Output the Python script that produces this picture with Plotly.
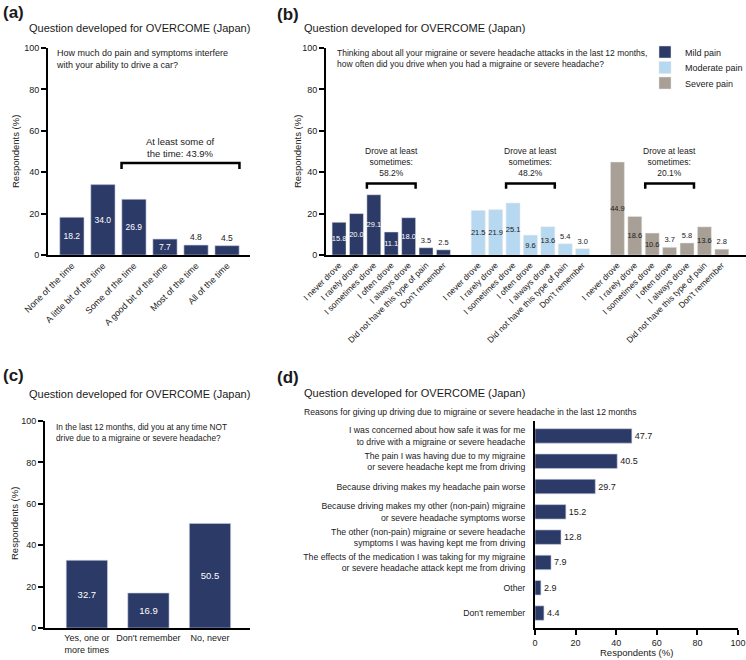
import plotly.graph_objects as go

W, H = 746, 660
FONT = "Liberation Sans, Arial, sans-serif"
NAVY = "#2B3A66"
LIGHT = "#B6D8F0"
TAUPE = "#A89F96"
TXT = "#1a1a1a"

# ---------------- data ----------------
a_categories = ["None of the time", "A little bit of the time", "Some of the time",
                "A good bit of the time", "Most of the time", "All of the time"]
a_values = [18.2, 34.0, 26.9, 7.7, 4.8, 4.5]
a_bracket_text = "At least some of<br>the time: 43.9%"

b_categories = ["I never drove", "I rarely drove", "I sometimes drove", "I often drove",
                "I always drove", "Did not have this type of pain", "Don't remember"]
b_series = ["Mild pain", "Moderate pain", "Severe pain"]
b_mild = [15.8, 20.0, 29.1, 11.1, 18.0, 3.5, 2.5]
b_moderate = [21.5, 21.9, 25.1, 9.6, 13.6, 5.4, 3.0]
b_severe = [44.9, 18.6, 10.6, 3.7, 5.8, 13.6, 2.8]
b_bracket_pct = ["58.2%", "48.2%", "20.1%"]

c_categories = ["Yes, one or<br>more times", "Don't remember", "No, never"]
c_values = [32.7, 16.9, 50.5]

d_categories = [
    "I was concerned about how safe it was for me<br>to drive with a migraine or severe headache",
    "The pain I was having due to my migraine<br>or severe headache kept me from driving",
    "Because driving makes my headache pain worse",
    "Because driving makes my other (non-pain) migraine<br>or severe headache symptoms worse",
    "The other (non-pain) migraine or severe headache<br>symptoms I was having kept me from driving",
    "The effects of the medication I was taking for my migraine<br>or severe headache attack kept me from driving",
    "Other",
    "Don't remember",
]
d_values = [47.7, 40.5, 29.7, 15.2, 12.8, 7.9, 2.9, 4.4]

# ---------------- helpers ----------------
def PX(x):
    return x / W

def PY(y):
    return 1 - y / H

def positions(vals, thr=7):
    return ["inside" if v >= thr else "outside" for v in vals]

fig = go.Figure()

# ---------- panel (a) ----------
a_x = list(range(len(a_categories)))
fig.add_trace(go.Bar(
    x=a_x, y=a_values, width=0.78, marker=dict(color=NAVY, line=dict(color="#c8cde0", width=0.6)),
    text=[f"{v:.1f}" for v in a_values], textposition=positions(a_values),
    insidetextanchor="middle", constraintext="none", textangle=0,
    insidetextfont=dict(color="white", size=8.5, family=FONT),
    outsidetextfont=dict(color=TXT, size=8.5, family=FONT),
    cliponaxis=False, showlegend=False, xaxis="x", yaxis="y", hoverinfo="skip"))

# ---------- panel (b) ----------
b_colors = [NAVY, LIGHT, TAUPE]
b_textcolors = ["white", TXT, TXT]
b_data = [b_mild, b_moderate, b_severe]
b_legends = ["legend", "legend2", "legend3"]
n = len(b_categories)
b_tickvals, b_ticktext = [], []
for g, (name, vals) in enumerate(zip(b_series, b_data)):
    xs = [g * (n + 1) + i for i in range(n)]
    b_tickvals += xs
    b_ticktext += b_categories
    fig.add_trace(go.Bar(
        x=xs, y=vals, width=0.8, name=name, legend=b_legends[g],
        marker=dict(color=b_colors[g], line=dict(color="#e6e6e6", width=0.5)),
        text=[f"{v:.1f}" for v in vals], textposition=positions(vals),
        insidetextanchor="middle", constraintext="none", textangle=0,
        insidetextfont=dict(color=b_textcolors[g], size=7.5, family=FONT),
        outsidetextfont=dict(color=TXT, size=7.5, family=FONT),
        cliponaxis=False, xaxis="x2", yaxis="y2", hoverinfo="skip"))

# ---------- panel (c) ----------
c_x = list(range(len(c_categories)))
fig.add_trace(go.Bar(
    x=c_x, y=c_values, width=0.67, marker=dict(color=NAVY, line=dict(color="#c8cde0", width=0.6)),
    text=[f"{v:.1f}" for v in c_values], textposition="inside",
    insidetextanchor="middle", constraintext="none", textangle=0,
    insidetextfont=dict(color="white", size=9.5, family=FONT),
    cliponaxis=False, showlegend=False, xaxis="x3", yaxis="y3", hoverinfo="skip"))

# ---------- panel (d) ----------
d_y = list(range(len(d_categories)))
fig.add_trace(go.Bar(
    y=d_y, x=d_values, orientation="h", width=0.57,
    marker=dict(color=NAVY, line=dict(color="#c8cde0", width=0.6)),
    text=[f"{v:.1f}" for v in d_values], textposition="outside", constraintext="none",
    textangle=0, outsidetextfont=dict(color=TXT, size=9, family=FONT),
    cliponaxis=False, showlegend=False, xaxis="x4", yaxis="y4", hoverinfo="skip"))

# ---------- axes ----------
axis_common = dict(showline=True, linecolor="black", linewidth=2, showgrid=False,
                   zeroline=False, automargin=False,
                   tickfont=dict(family=FONT, size=9, color=TXT))

yax = dict(axis_common, range=[0, 100], tickvals=[0, 20, 40, 60, 80, 100],
           ticks="outside", ticklen=5, tickwidth=1.5, tickcolor="black")

def legend_at(y):
    return dict(x=PX(645), y=PY(y), xanchor="left", yanchor="middle",
                font=dict(family=FONT, size=9, color=TXT), bgcolor="rgba(0,0,0,0)",
                itemwidth=30)

layout = dict(
    width=W, height=H, margin=dict(l=0, r=0, t=0, b=0, autoexpand=False),
    paper_bgcolor="white", plot_bgcolor="white", barmode="overlay",
    font=dict(family=FONT, color=TXT),
    xaxis=dict(axis_common, domain=[PX(48), PX(250)], range=[-0.77, 5.74],
               tickvals=a_x, ticktext=a_categories, tickangle=-45, ticks="",
               anchor="y"),
    yaxis=dict(yax, domain=[PY(255), PY(48)], anchor="x"),
    xaxis2=dict(axis_common, domain=[PX(326), PX(746)], range=[-0.75, 23.39],
                tickvals=b_tickvals, ticktext=b_ticktext, tickangle=-45, ticks="",
                tickfont=dict(family=FONT, size=8.5, color=TXT), anchor="y2"),
    yaxis2=dict(yax, domain=[PY(255), PY(48)], anchor="x2"),
    xaxis3=dict(axis_common, domain=[PX(45), PX(250)], range=[-0.68, 2.65],
                tickvals=c_x, ticktext=c_categories, ticks="", anchor="y3",
                tickfont=dict(family=FONT, size=9, color=TXT)),
    yaxis3=dict(yax, domain=[PY(628), PY(421)], anchor="x3"),
    xaxis4=dict(axis_common, domain=[PX(535), PX(738)], range=[0, 100],
                tickvals=[0, 20, 40, 60, 80, 100], ticks="outside", ticklen=5,
                tickwidth=1.5, tickcolor="black", anchor="y4"),
    yaxis4=dict(axis_common, domain=[PY(628), PY(421)], range=[7.59, -0.59],
                tickvals=d_y, ticktext=d_categories, ticks="", ticklabelstandoff=6,
                tickfont=dict(family=FONT, size=8.7, color=TXT), anchor="x4"),
    legend=legend_at(52),
    legend2=legend_at(67.5),
    legend3=legend_at(83),
)
fig.update_layout(**layout)

# ---------- annotations ----------
ann = []

def paper_text(x, y, text, size, bold=False, xanchor="left", yanchor="middle", align="left", angle=0):
    ann.append(dict(xref="paper", yref="paper", x=PX(x), y=PY(y), text=f"<b>{text}</b>" if bold else text,
                    showarrow=False, xanchor=xanchor, yanchor=yanchor, align=align, textangle=angle,
                    font=dict(family=FONT, size=size, color=TXT)))

# panel labels
paper_text(1, 13, "(a)", 17, bold=True)
paper_text(275, 15, "(b)", 17, bold=True)
paper_text(1, 375, "(c)", 17, bold=True)
paper_text(275, 377, "(d)", 17, bold=True)

# titles
title = "Question developed for OVERCOME (Japan)"
paper_text(27, 28, title, 11)
paper_text(302, 28, title, 11)
paper_text(27, 394, title, 11)
paper_text(302, 393, title, 11)

# subtitles
paper_text(54, 46, "How much do pain and symptoms interfere<br>with your ability to drive a car?", 9, yanchor="top")
paper_text(335, 46, "Thinking about all your migraine or severe headache attacks in the last 12 months,<br>"
                    "how often did you drive when you had a migraine or severe headache?", 8.5, yanchor="top")
paper_text(54, 420, "In the last 12 months, did you at any time NOT<br>drive due to a migraine or severe headache?", 8.3, yanchor="top")
paper_text(302, 412, "Reasons for giving up driving due to migraine or severe headache in the last 12 months", 8.6)

# axis titles
paper_text(15, 152, "Respondents (%)", 9.5, xanchor="center", angle=-90)
paper_text(297, 152, "Respondents (%)", 9.5, xanchor="center", angle=-90)
paper_text(14, 524, "Respondents (%)", 9.5, xanchor="center", angle=-90)
paper_text(636, 652, "Respondents (%)", 9.5, xanchor="center")

# brackets
shapes = []
def bracket(xref, yref, i0, i1, half, level, drop, text, size, shift):
    x0, x1 = i0 - half, i1 + half
    shapes.append(dict(type="path", xref=xref, yref=yref,
                       path=f"M {x0},{level - drop} L {x0},{level} L {x1},{level} L {x1},{level - drop}",
                       line=dict(color="black", width=2.5)))
    ann.append(dict(xref=xref, yref=yref, x=(x0 + x1) / 2, y=level, yshift=shift, text=text,
                    showarrow=False, xanchor="center", yanchor="bottom", align="center",
                    font=dict(family=FONT, size=size, color=TXT)))

bracket("x", "y", 2, 5, 0.4, 44.4, 2.8, a_bracket_text, 9.5, 2)
for g, pct in enumerate(b_bracket_pct):
    base = g * (n + 1)
    bracket("x2", "y2", base + 2, base + 4, 0.4, 34.6, 2.6,
            f"Drove at least<br>sometimes:<br>{pct}", 8.5, 3)

fig.update_layout(annotations=ann, shapes=shapes)
fig.write_html("out.html", config={"displayModeBar": False},
               post_script="document.body.style.margin='0';document.body.style.overflow='hidden';")
